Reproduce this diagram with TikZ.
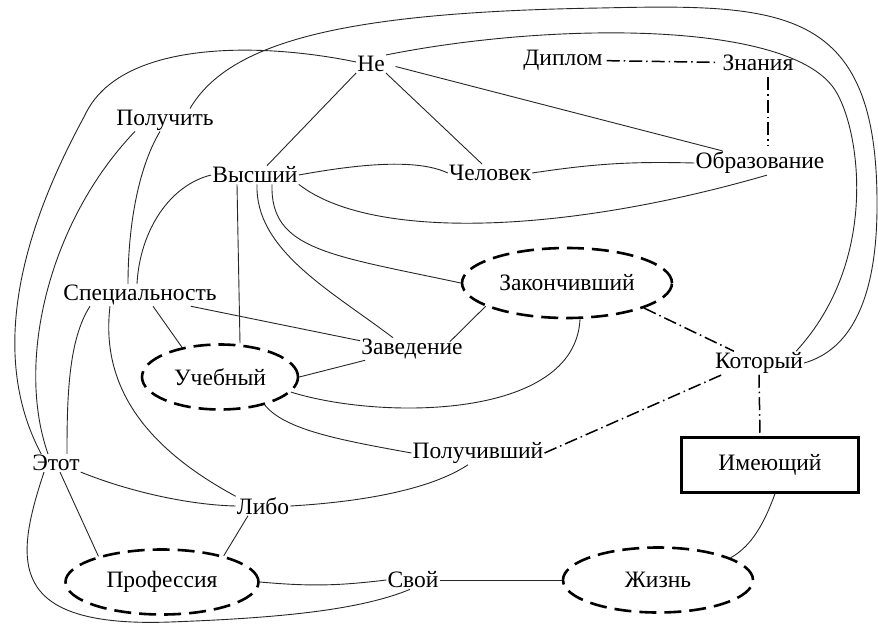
\documentclass[tikz,border=0pt]{standalone}
\usepackage{fontspec}
\setmainfont{Liberation Serif}
\usetikzlibrary{shapes.geometric}
\begin{document}
\begin{tikzpicture}[
    x=1pt, y=1pt,
    word/.style={inner sep=1pt, font=\fontsize{23.5}{28}\selectfont},
    oval/.style={ellipse, draw, line width=2.6pt, dash pattern=on 17pt off 8pt, inner sep=0pt, font=\fontsize{23.5}{28}\selectfont},
    framed/.style={rectangle, draw, line width=2.2pt, minimum width=177pt, minimum height=55pt, font=\fontsize{23.5}{28}\selectfont},
    link/.style={line width=0.9pt, black!85},
    dashlink/.style={line width=1.5pt, dash pattern=on 13pt off 4pt on 1.5pt off 4pt}
]
    \useasboundingbox (0,0) rectangle (878,-624);

    % Top words
    \node [word] (ne) at (371,-64) {Не};
    \node [word] (diplom) at (563,-60) {Диплом};
    \node [word] (znaniya) at (758,-63) {Знания};
    \node [word] (poluchit) at (165,-120) {Получить};
    \node [word] (vysshiy) at (255,-175) {Высший};
    \node [word] (chelovek) at (490,-173) {Человек};
    \node [word] (obrazovanie) at (760,-163) {Образование};

    % Middle words
    \node [oval, minimum width=210pt, minimum height=70pt] (zakonch) at (567,-283) {Закончивший};
    \node [word] (spets) at (140,-295) {Специальность};
    \node [word] (zavedenie) at (412,-349) {Заведение};
    \node [oval, minimum width=156pt, minimum height=65pt] (uchebny) at (220,-377) {Учебный};
    \node [word] (kotory) at (759,-363) {Который};
    \node [word] (poluchiv) at (478,-453) {Получивший};
    \node [framed] (imeyushiy) at (770,-465) {Имеющий};

    % Bottom words
    \node [word] (etot) at (56,-463) {Этот};
    \node [word] (libo) at (263,-506) {Либо};
    \node [oval, minimum width=193pt, minimum height=65pt] (professiya) at (162,-582) {Профессия};
    \node [word] (svoy) at (413,-580) {Свой};
    \node [oval, minimum width=190pt, minimum height=65pt] (zhizn) at (658,-580) {Жизнь};

    % Links from Не
    \draw [link] (ne.south west) -- ([xshift=12pt]vysshiy.north);
    \draw [link] (ne.south east) -- ([xshift=-8pt]chelovek.north);
    \draw [link, shorten <=10pt] (ne.east) -- ([xshift=28pt]obrazovanie.north west);
    \draw [link] ([yshift=2pt]ne.west) .. controls (260,-42) and (120,-40) .. (85,-115)
        .. controls (50,-180) and (-25,-330) .. ([xshift=10pt]etot.north west);
    \draw [link] (ne.north east) .. controls (550,-22) and (790,-20) .. (835,-90)
        .. controls (860,-129) and (880,-260) .. ([xshift=-8pt]kotory.north east);

    % Links from Получить
    \draw [link] ([xshift=-30pt]poluchit.south) .. controls (50,-220) and (15,-360) .. ([xshift=-8pt]etot.north);
    \draw [link] ([xshift=-5pt]poluchit.south) .. controls (137,-170) and (128,-230) .. ([xshift=-12pt]spets.north);
    \draw [link] ([xshift=25pt]poluchit.north) .. controls (230,-40) and (350,-12) .. (600,-8)
        .. controls (780,-4) and (876,-5) .. (877,-200)
        .. controls (878,-300) and (850,-350) .. (kotory.east);

    % Links from Высший
    \draw [link] (vysshiy.west) .. controls (170,-185) and (140,-230) .. ([xshift=-3pt]spets.north);
    \draw [link] ([xshift=-18pt]vysshiy.south) -- ([xshift=20pt]uchebny.north);
    \draw [link] ([xshift=2pt]vysshiy.south) .. controls (255,-250) and (330,-290) .. ([xshift=-19pt]zavedenie.north);
    \draw [link] ([xshift=17pt]vysshiy.south) .. controls (270,-250) and (330,-255) .. (zakonch.west);
    \draw [link] (vysshiy.south east) .. controls (370,-240) and (560,-235) .. ([xshift=7pt]obrazovanie.south);
    \draw [link] (vysshiy.east) .. controls (370,-162) and (420,-160) .. (chelovek.west);
    \draw [link] (chelovek.east) to [bend left=5] (obrazovanie.west);

    % Dash-dot links
    \draw [dashlink, shorten <=3pt, shorten >=5pt] (diplom) -- (znaniya);
    \draw [dashlink, shorten <=5pt, shorten >=5pt] ([xshift=10pt]znaniya.south) -- ([xshift=8pt]obrazovanie.north);
    \draw [dashlink] (zakonch.-18) -- ([xshift=20pt]kotory.north west);
    \draw [dashlink] (poluchiv.east) -- ([xshift=8pt]kotory.south west);
    \draw [dashlink] (kotory.south) -- ([xshift=-10pt]imeyushiy.north);

    % Links round Заведение and Учебный
    \draw [link] ([xshift=-27pt]spets.south east) -- ([yshift=-3pt]zavedenie.north west);
    \draw [link] ([xshift=5pt]zavedenie.south west) -- (uchebny.east);
    \draw [link] (zakonch.-164) -- ([xshift=-14pt,yshift=-4pt]zavedenie.north east);
    \draw [link] ([xshift=13pt]zakonch.south) .. controls (575,-420) and (380,-420) .. (uchebny.-12);
    \draw [link] (uchebny.-32) .. controls (285,-430) and (340,-440) .. (poluchiv.west);

    % Links from Специальность
    \draw [link] ([xshift=-50pt]spets.south) .. controls (68,-340) and (67,-400) .. ([xshift=11pt]etot.north);
    \draw [link] ([xshift=-30pt]spets.south) .. controls (100,-390) and (150,-450) .. (libo.north west);
    \draw [link] ([xshift=13pt]spets.south) -- (uchebny.142);

    % Links from Этот
    \draw [link] (etot.south east) .. controls (130,-492) and (190,-505) .. (libo.west);
    \draw [link] ([xshift=4pt]etot.south) -- (professiya.158);
    \draw [link] ([xshift=-12pt]etot.south) .. controls (15,-560) and (5,-628) .. (170,-622)
        .. controls (280,-618) and (360,-610) .. ([xshift=-3pt]svoy.south);

    % Bottom links
    \draw [link] (libo.east) .. controls (360,-502) and (430,-490) .. ([xshift=-10pt]poluchiv.south);
    \draw [link] ([xshift=-15pt]libo.south) -- (professiya.23);
    \draw [link] (professiya.east) to [bend right=6] (svoy.west);
    \draw [link] (svoy.east) -- (zhizn.west);
    \draw [link] ([xshift=5pt]imeyushiy.south) .. controls (762,-530) and (748,-548) .. (zhizn.17);
\end{tikzpicture}
\end{document}
